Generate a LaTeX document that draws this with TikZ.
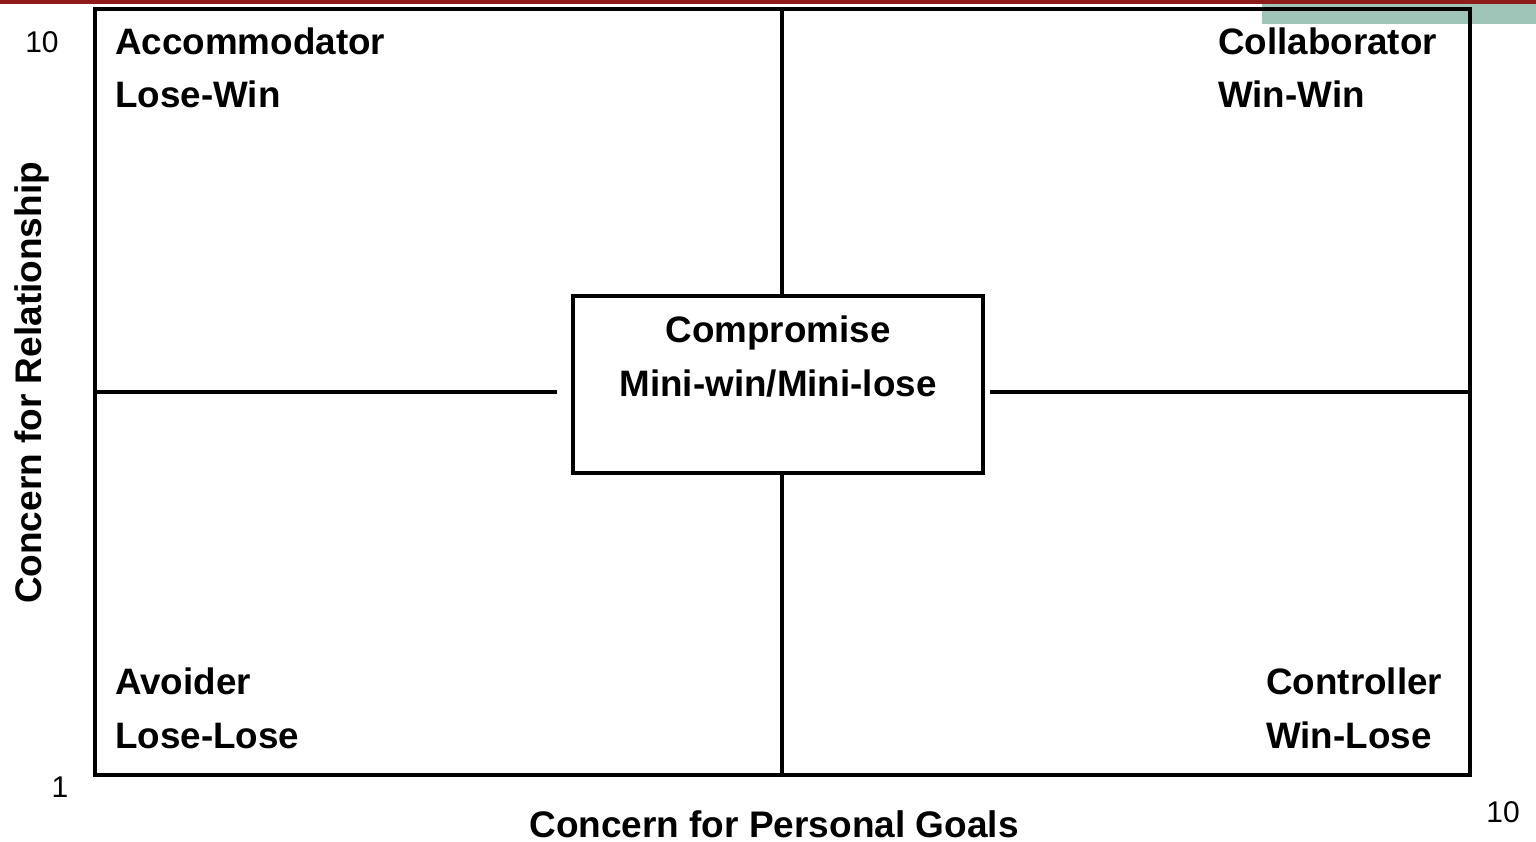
\documentclass[tikz,border=0pt]{standalone}
\usepackage{fontspec}
\setmainfont{Liberation Sans}
\definecolor{topred}{HTML}{8E1B1B}
\definecolor{topgreen}{HTML}{9EC5B8}
\begin{document}
\begin{tikzpicture}[x=1pt,y=-1pt,
  frame/.style={line width=3.2pt,draw=black},
  lbl/.style={inner sep=0pt,anchor=base west,font=\fontsize{36.8}{42}\selectfont\bfseries},
  axisnum/.style={inner sep=0pt,font=\fontsize{30}{36}\selectfont},
  axislbl/.style={inner sep=0pt,font=\fontsize{37}{44}\selectfont\bfseries}]
\useasboundingbox (0,0) rectangle (1536,842);
\fill[white] (0,0) rectangle (1536,842);
% top decoration
\fill[topred] (0,0) rectangle (1536,4);
\fill[topgreen] (1262,4) rectangle (1536,24);
% frame
\coordinate (tl) at (95,9);
\coordinate (br) at (1470,775);
\draw[frame] (tl) rectangle (br);
% centre box
\node[frame,fill=white,minimum width=410pt,minimum height=177pt,inner sep=0pt] (cbox) at (778,384.5) {};
\coordinate (vtop) at (782,9);
\coordinate (vbot) at (782,775);
\coordinate (hl) at (95,392);
\coordinate (hle) at (557,392);
\coordinate (hrs) at (990,392);
\coordinate (hr) at (1470,392);
\draw[frame] (vtop) -- (vtop |- cbox.north);
\draw[frame] (vtop |- cbox.south) -- (vbot);
\draw[frame] (hl) -- (hle);
\draw[frame] (hrs) -- (hr);
% labels
\node[lbl] (acc1) at (115,55) {Accommodator};
\node[lbl] (acc2) at (115,108) {Lose-Win};
\node[lbl] (col1) at (1218,55) {Collaborator};
\node[lbl] (col2) at (1218,108) {Win-Win};
\node[lbl] (avo1) at (115,694) {Avoider};
\node[lbl] (avo2) at (115,748) {Lose-Lose};
\node[lbl] (con1) at (1266,694) {Controller};
\node[lbl] (con2) at (1266,748) {Win-Lose};
\node[lbl,anchor=base] (cmp1) at (778,342) {Compromise};
\node[lbl,anchor=base] (cmp2) at (778,396) {Mini-win/Mini-lose};
% axes
\node[axisnum] (n10a) at (42,42) {10};
\node[axisnum] (n1) at (60,787) {1};
\node[axisnum] (n10b) at (1503,812) {10};
\node[axislbl,anchor=base] (xlab) at (774,837) {Concern for Personal Goals};
\node[axislbl,rotate=90] (ylab) at (32,383) {Concern for Relationship};
\end{tikzpicture}
\end{document}
